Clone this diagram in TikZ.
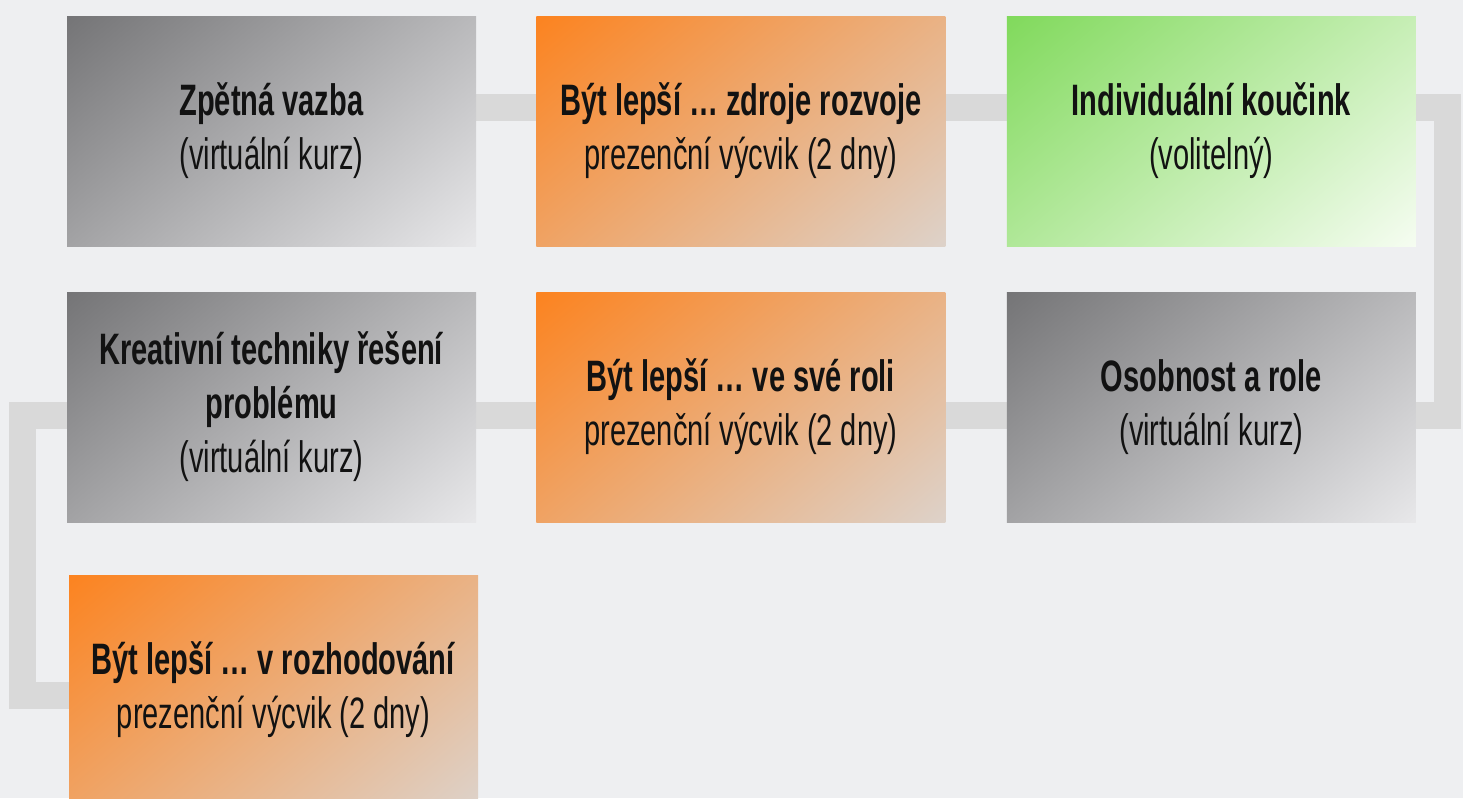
\documentclass[tikz,border=0pt]{standalone}
\usepackage{fontspec}
\setmainfont{Liberation Sans}[FakeStretch=0.66]
\usetikzlibrary{positioning,backgrounds}

\definecolor{bgcol}{RGB}{238,239,241}
\definecolor{linkcol}{RGB}{217,217,217}
\definecolor{graydark}{RGB}{112,112,114}
\definecolor{graylight}{RGB}{236,236,238}
\definecolor{orangedark}{RGB}{253,128,25}
\definecolor{orangelight}{RGB}{220,213,208}
\definecolor{greendark}{RGB}{124,216,86}
\definecolor{greenlight}{RGB}{250,254,247}

\pgfdeclareverticalshading{coursefill}{100bp}{color(0bp)=(graylight); color(12bp)=(graylight); color(88bp)=(graydark); color(100bp)=(graydark)}
\pgfdeclareverticalshading{trainingfill}{100bp}{color(0bp)=(orangelight); color(12bp)=(orangelight); color(88bp)=(orangedark); color(100bp)=(orangedark)}
\pgfdeclareverticalshading{coachfill}{100bp}{color(0bp)=(greenlight); color(12bp)=(greenlight); color(88bp)=(greendark); color(100bp)=(greendark)}

\begin{document}
\begin{tikzpicture}[x=1pt,y=-1pt]
                    \tikzstyle{every node}=[rectangle,minimum width=409,minimum height=230,inner sep=0,align=center,
                        font=\fontsize{44}{54}\selectfont,text=black!93]
                    \tikzstyle{course}=[shading=coursefill,shading angle=40]
                    \tikzstyle{training}=[shading=trainingfill,shading angle=40]
                    \tikzstyle{coach}=[shading=coachfill,shading angle=40]
                    \tikzstyle{link}=[draw=linkcol,line width=27]
                    {
                        \useasboundingbox (0,0) rectangle (1463,798);
                        \clip (0,0) rectangle (1463,798);

                        \node[course] (b1) at (271.5,131) {\textbf{Zpětná vazba}\\(virtuální kurz)};
                        \node[training,node distance=60] (b2) [right=of b1] {\textbf{Být lepší … zdroje rozvoje}\\prezenční výcvik (2 dny)};
                        \node[coach,node distance=61] (b3) [right=of b2] {\textbf{Individuální koučink}\\(volitelný)};

                        \node[course] (b4) at (271.5,407) {\textbf{Kreativní techniky řešení}\\\textbf{problému}\\(virtuální kurz)};
                        \node[training,node distance=60] (b5) [right=of b4] {\textbf{Být lepší … ve své roli}\\prezenční výcvik (2 dny)};
                        \node[course,node distance=61] (b6) [right=of b5] {\textbf{Osobnost a role}\\(virtuální kurz)};

                        \node[training] (b7) at (273.5,690) {\textbf{Být lepší … v rozhodování}\\prezenční výcvik (2 dny)};

                        \begin{pgfonlayer}{background}
                            \fill[bgcol] (0,0) rectangle (1463,798);
                            \draw[link] ([yshift=23.5pt]b1.center) -- ([yshift=23.5pt]b3.center)
                                -- ++(236,0) |- ([yshift=-8pt]b6.center)
                                -- ([yshift=-8pt]b4.center)
                                -- ++(-249,0) |- ([yshift=-5.5pt]b7.center);
                        \end{pgfonlayer}
                    }
                \end{tikzpicture}
\end{document}
